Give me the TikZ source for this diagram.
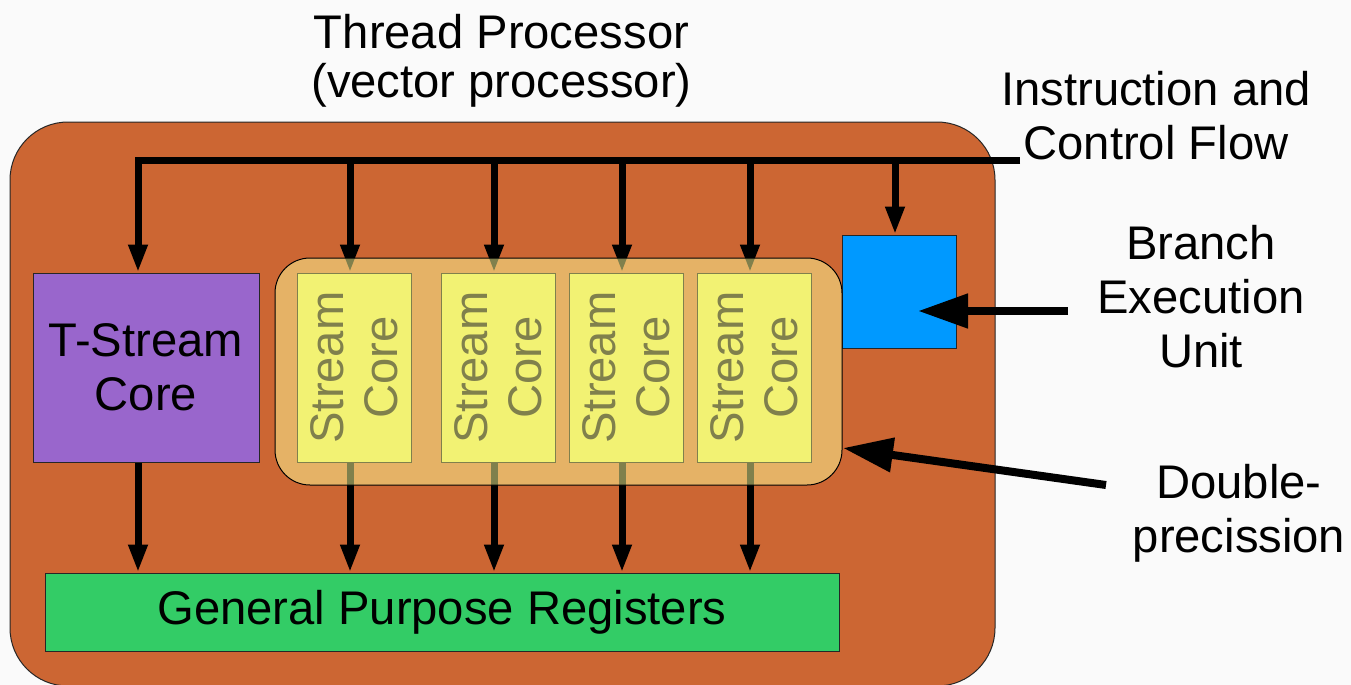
\documentclass[tikz,border=0pt]{standalone}
\usepackage{fontspec}
\setmainfont{Liberation Sans}
\usetikzlibrary{arrows.meta}

\definecolor{tporange}{HTML}{CC6633}
\definecolor{tspurple}{HTML}{9966CC}
\definecolor{scyellow}{HTML}{E6E64D}
\definecolor{dpyellow}{HTML}{FFFF99}
\definecolor{beblue}{HTML}{0099FF}
\definecolor{gpgreen}{HTML}{33CC66}
\definecolor{backgr}{HTML}{FAFAFA}

\begin{document}
\begin{tikzpicture}[x=0.5pt, y=-0.5pt,
    every node/.style={inner sep=0pt, font=\fontsize{23.6}{27}\selectfont},
    box/.style={draw=black!85, line width=0.5pt, align=center},
    flow/.style={line width=3.5pt, -{Triangle[length=14pt, width=9pt]}},
    pointer/.style={line width=4pt, -{Triangle[length=25pt, width=16.5pt]}}]
    \fill[backgr] (0,0) rectangle (1351,685);
    \useasboundingbox (0,0) rectangle (1351,685);

    % thread processor and its units
    \node[box, fill=tporange, rounded corners=29pt, minimum width=492.5pt, minimum height=282pt] (tp) at (502.5,404) {};
    \node[box, fill=tspurple, minimum width=113pt, minimum height=94.5pt] (ts) at (146,367.5) {T-Stream\\Core};
    \node[box, fill=gpgreen, minimum width=397pt, minimum height=39pt] (gpr) at (442,612) {General Purpose Registers};
    \node[box, fill=beblue, minimum width=57pt, minimum height=56.5pt] (be) at (899,291.5) {};
    \foreach \i/\x in {1/354, 2/498, 3/626, 4/754} {
        \node[box, draw=black, fill=scyellow, minimum width=57pt, minimum height=94.5pt] (sc\i) at (\x,367.5) {};
        \node[rotate=90, align=center] (sct\i) at (sc\i) {Stream\\Core};
    }

    % instruction and control flow
    \coordinate (busL) at (138,160);
    \coordinate (busR) at (1020,160);
    \draw[flow] (busR) -- (busL) -- (busL |- ts.north);
    \draw[flow] (busL |- ts.south) -- (busL |- gpr.north);
    \draw[flow] ([xshift=-2pt]be.north |- busL) -- ([xshift=-2pt]be.north);
    \foreach \i in {1,...,4} {
        \draw[flow] ([xshift=-2pt]sc\i.north |- busL) -- ([xshift=-2pt]sc\i.north);
        \draw[flow] ([xshift=-2pt]sc\i.south) -- ([xshift=-2pt]sc\i.south |- gpr.north);
    }

    % double precision group, see-through
    \node[draw=black, line width=0.5pt, fill=dpyellow, fill opacity=0.5, rounded corners=17.5pt,
        minimum width=283.5pt, minimum height=113.5pt] (dp) at (558.5,371.5) {};

    %labels
    \node[align=center, font=\fontsize{23.6}{24.5}\selectfont] (title) at (501.5,61) {Thread Processor\\(vector processor)};
    \node[align=center] (icf) at (1156,116) {Instruction and\\Control Flow};
    \node[align=center] (beu) at (1201,297) {Branch\\Execution\\Unit};
    \node[align=center] (dpl) at (1239,513) {Double-\\precission};

    \coordinate (bePtr) at (1068,311);
    \coordinate (beTip) at (918,311);
    \coordinate (dpPtr) at (1106,485);
    \coordinate (dpTip) at (843,448);
    \draw[pointer] (bePtr) -- (beTip);
    \draw[pointer] (dpPtr) -- (dpTip);
\end{tikzpicture}
\end{document}
